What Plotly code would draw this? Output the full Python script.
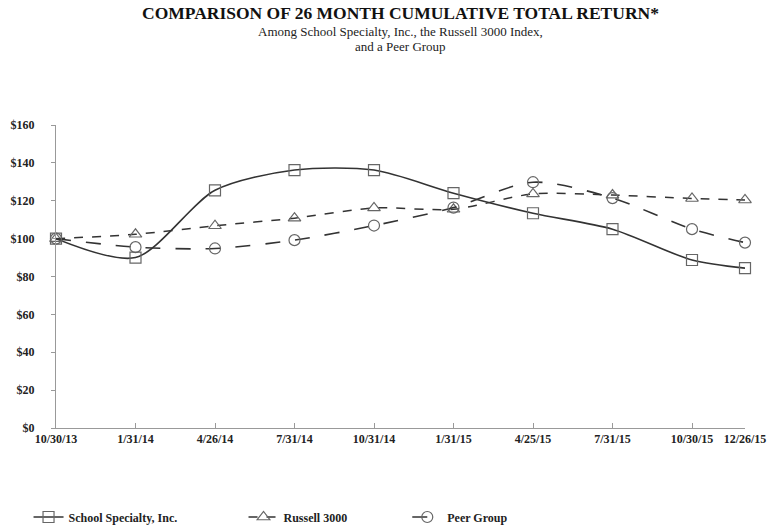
import plotly.graph_objects as go

months = [0, 3, 6, 9, 12, 15, 18, 21, 24, 26]
date_labels = ["10/30/13", "1/31/14", "4/26/14", "7/31/14", "10/31/14",
               "1/31/15", "4/25/15", "7/31/15", "10/30/15", "12/26/15"]
school = [100, 90, 125.5, 136.2, 136.2, 124, 113.4, 105, 88.7, 84.4]
russell = [100, 102.3, 106.8, 110.8, 116.2, 115.5, 123.6, 123, 121.2, 120.4]
peer = [100, 95.5, 94.8, 99.2, 106.9, 116.4, 129.8, 121.4, 105, 97.9]
y_ticks = [0, 20, 40, 60, 80, 100, 120, 140, 160]

FONT = "Liberation Serif"
LINE = "#333333"
MK = "#666666"

fig = go.Figure()
fig.add_trace(go.Scatter(
    x=months, y=school, name="<b>School Specialty, Inc.</b>", mode="lines+markers",
    line=dict(color=LINE, width=1.6, shape="spline", smoothing=0.8),
    marker=dict(symbol="square-open", size=11, color=MK, line=dict(width=1.2)),
    cliponaxis=False, legend="legend"))
fig.add_trace(go.Scatter(
    x=months, y=russell, name="<b>Russell 3000</b>", mode="lines+markers",
    line=dict(color=LINE, width=1.5, dash="dash", shape="spline", smoothing=0.8),
    marker=dict(symbol="triangle-up-open", size=11, color=MK, line=dict(width=1.2)),
    cliponaxis=False, legend="legend2"))
fig.add_trace(go.Scatter(
    x=months, y=peer, name="<b>Peer Group</b>", mode="lines+markers",
    line=dict(color=LINE, width=1.6, dash="longdash", shape="spline", smoothing=0.8),
    marker=dict(symbol="circle-open", size=11, color=MK, line=dict(width=1.2)),
    cliponaxis=False, legend="legend3"))

legend_common = dict(orientation="h", xref="container", yref="container",
                     yanchor="middle", y=0.019,
                     font=dict(family=FONT, size=12, color="#222"),
                     bgcolor="rgba(0,0,0,0)", itemwidth=30)

fig.update_layout(
    width=767, height=527,
    margin=dict(l=56, r=22, t=125, b=99, autoexpand=False),
    paper_bgcolor="white", plot_bgcolor="white",
    font=dict(family=FONT, color="#222"),
    xaxis=dict(range=[0, 26], tickvals=months,
               ticktext=["<b>" + t + "</b>" for t in date_labels],
               showgrid=False, zeroline=False, showline=True, linecolor="#999",
               linewidth=1, ticks="inside", ticklen=5, tickcolor="#999",
               tickfont=dict(family=FONT, size=12, color="#222"),
               tickangle=0),
    yaxis=dict(range=[0, 160], tickvals=y_ticks,
               ticktext=["<b>$" + str(v) + "</b>" for v in y_ticks],
               showgrid=False, zeroline=False, showline=True, linecolor="#999",
               linewidth=1, ticks="outside", ticklen=4, tickcolor="#999",
               ticklabelstandoff=14,
               tickfont=dict(family=FONT, size=12, color="#222")),
    showlegend=True,
    legend=dict(x=0.0372, xanchor="left", **legend_common),
    legend2=dict(x=0.3175, xanchor="left", **legend_common),
    legend3=dict(x=0.531, xanchor="left", **legend_common),
    annotations=[
        dict(text="<b>COMPARISON OF 26 MONTH CUMULATIVE TOTAL RETURN*</b>",
             xref="paper", yref="paper", x=0.5, y=1, yshift=112, xanchor="center",
             yanchor="middle", showarrow=False,
             font=dict(family=FONT, size=17.5, color="#111")),
        dict(text="Among School Specialty, Inc., the Russell 3000 Index,",
             xref="paper", yref="paper", x=0.5, y=1, yshift=94, xanchor="center",
             yanchor="middle", showarrow=False,
             font=dict(family=FONT, size=13, color="#222")),
        dict(text="and a Peer Group",
             xref="paper", yref="paper", x=0.5, y=1, yshift=79, xanchor="center",
             yanchor="middle", showarrow=False,
             font=dict(family=FONT, size=13, color="#222")),
    ],
)

fig.write_html("out.html", config={"displayModeBar": False},
               post_script="document.body.style.margin='0px';document.body.style.padding='0px';")
